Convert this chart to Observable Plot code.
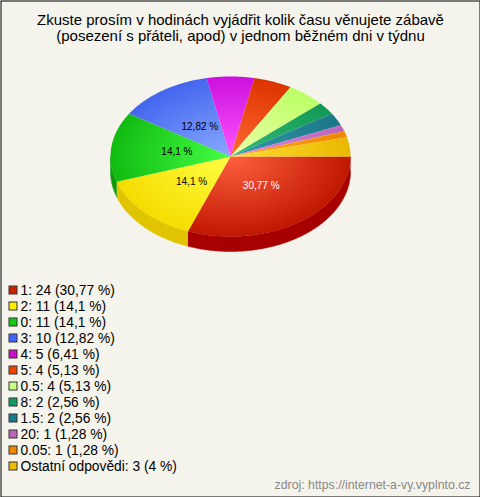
<!DOCTYPE html>
<html>
<head>
<meta charset="utf-8">
<script src="https://cdn.jsdelivr.net/npm/d3@7"></script>
<script src="https://cdn.jsdelivr.net/npm/@observablehq/plot@0.6"></script>
<style>
  html, body { margin: 0; padding: 0; background: #f5f4ec; }
  svg { display: block; }
</style>
</head>
<body>
<div id="chart"></div>
<script>
// ---- data ----
const titleLines = [
  "Zkuste prosím v hodinách vyjádřit kolik času věnujete zábavě",
  "(posezení s přáteli, apod) v jednom běžném dni v týdnu"
];
const categories = ["1", "2", "0", "3", "4", "5", "0.5", "8", "1.5", "20", "0.05", "Ostatní odpovědi"];
const counts = [24, 11, 11, 10, 5, 4, 4, 2, 2, 1, 1, 3];
const percentLabels = ["30,77 %", "14,1 %", "14,1 %", "12,82 %", "6,41 %", "5,13 %", "5,13 %", "2,56 %", "2,56 %", "1,28 %", "1,28 %", "4 %"];
const source = "zdroj: https://internet-a-vy.vyplnto.cz";

// ---- palette ----
const legendColors = ["#cc2200", "#ffee00", "#11cc11", "#4466ff", "#cc11cc", "#ee4400", "#ccff88", "#119966", "#1a7a8a", "#bb66bb", "#ee8800", "#eebb00"];
const lightColors  = ["#ff6040", "#ffff44", "#44ff44", "#88aaff", "#ff55ff", "#ff6a33", "#eeffaa", "#33bb77", "#3399aa", "#dd88dd", "#ffaa22", "#ffdd33"];
const darkColors   = ["#c01800", "#f5dc00", "#11bb11", "#4466ee", "#cc11dd", "#dd3300", "#bbff66", "#119955", "#1a7788", "#bb66bb", "#ee8800", "#eab800"];
const sideColors   = ["#a80000", "#e0c400", "#0c9a0c", "#3355cc", "#aa10bb", "#b82a00", "#99dd55", "#0c7a44", "#125f6d", "#995599", "#c87000", "#c89a00"];

// ---- layout ----
const W = 480, H = 497;
const cx = 230, cy = 156, rx = 120, ry = 80, depth = 15;

const total = d3.sum(counts);
const cum = [0, ...d3.cumsum(counts)];
const slices = counts.map((v, i) => ({
  i, a0: 2 * Math.PI * cum[i] / total, a1: 2 * Math.PI * cum[i + 1] / total
}));

function arcPts(a0, a1, dy = 0) {
  const n = Math.max(2, Math.ceil((a1 - a0) / 0.01));
  return d3.range(n + 1).map(k => {
    const t = a0 + (a1 - a0) * k / n;
    return {x: cx + rx * Math.cos(t), y: cy + ry * Math.sin(t) + dy};
  });
}

const marks = [];
// sides (front half only: angles 0..PI)
for (const s of slices) {
  const a = Math.max(s.a0, 0), b = Math.min(s.a1, Math.PI);
  if (b > a) {
    const pts = [...arcPts(a, b), ...arcPts(a, b, depth).reverse()];
    marks.push(Plot.line(pts, {x: "x", y: "y", fill: sideColors[s.i], stroke: sideColors[s.i], strokeWidth: 0.5}));
  }
}
// tops
for (const s of slices) {
  const pts = [{x: cx, y: cy}, ...arcPts(s.a0, s.a1)];
  marks.push(Plot.line(pts, {x: "x", y: "y", fill: `url(#top${s.i})`, stroke: "none"}));
}
// percent labels inside large slices
const labelData = slices.filter(s => counts[s.i] / total > 0.1).map(s => {
  const m = (s.a0 + s.a1) / 2;
  return {x: cx + 0.45 * rx * Math.cos(m), y: cy + 0.45 * ry * Math.sin(m), t: percentLabels[s.i], c: s.i === 0 ? "#fff" : "#000"};
});
marks.push(Plot.text(labelData, {x: "x", y: "y", text: "t", fill: "c", fontSize: 10}));

// title
marks.push(Plot.text(titleLines, {x: () => W / 2, y: (d, i) => 20 + 16 * i, text: d => d, fontSize: 15, fill: "#000"}));

// legend
const legend = categories.map((c, i) => ({i, label: `${c}: ${counts[i]} (${percentLabels[i]})`}));
marks.push(Plot.rect(legend, {
  x1: () => 9, x2: () => 17,
  y1: d => 286 + 16 * d.i, y2: d => 294 + 16 * d.i,
  fill: d => legendColors[d.i], stroke: "#333", strokeWidth: 1
}));
marks.push(Plot.text(legend, {
  x: () => 20, y: d => 290 + 16 * d.i, text: "label", textAnchor: "start", fontSize: 13.8, fill: "#000"
}));

// source
marks.push(Plot.text([source], {x: () => 470, y: () => 485, text: d => d, textAnchor: "end", fontSize: 12.3, fill: "#888"}));

// border
marks.push(Plot.frame({stroke: "#000", strokeWidth: 1, inset: 0.5}));

const svg = Plot.plot({
  width: W, height: H, margin: 0,
  x: {domain: [0, W], range: [0, W], axis: null},
  y: {domain: [0, H], range: [0, H], axis: null},
  color: {type: "identity"},
  style: {background: "#f5f4ec", fontFamily: "'Liberation Sans', Arial, sans-serif", overflow: "visible"},
  marks
});

// gradients for pie tops
const defs = d3.select(svg).insert("defs", ":first-child");
slices.forEach(s => {
  const g = defs.append("radialGradient")
    .attr("id", `top${s.i}`)
    .attr("gradientUnits", "userSpaceOnUse")
    .attr("cx", cx).attr("cy", cy).attr("r", rx)
    .attr("gradientTransform", `translate(0,${cy}) scale(1,${ry / rx}) translate(0,${-cy})`);
  g.append("stop").attr("offset", "0%").attr("stop-color", lightColors[s.i]);
  g.append("stop").attr("offset", "100%").attr("stop-color", darkColors[s.i]);
});

document.getElementById("chart").appendChild(svg);
</script>
</body>
</html>
